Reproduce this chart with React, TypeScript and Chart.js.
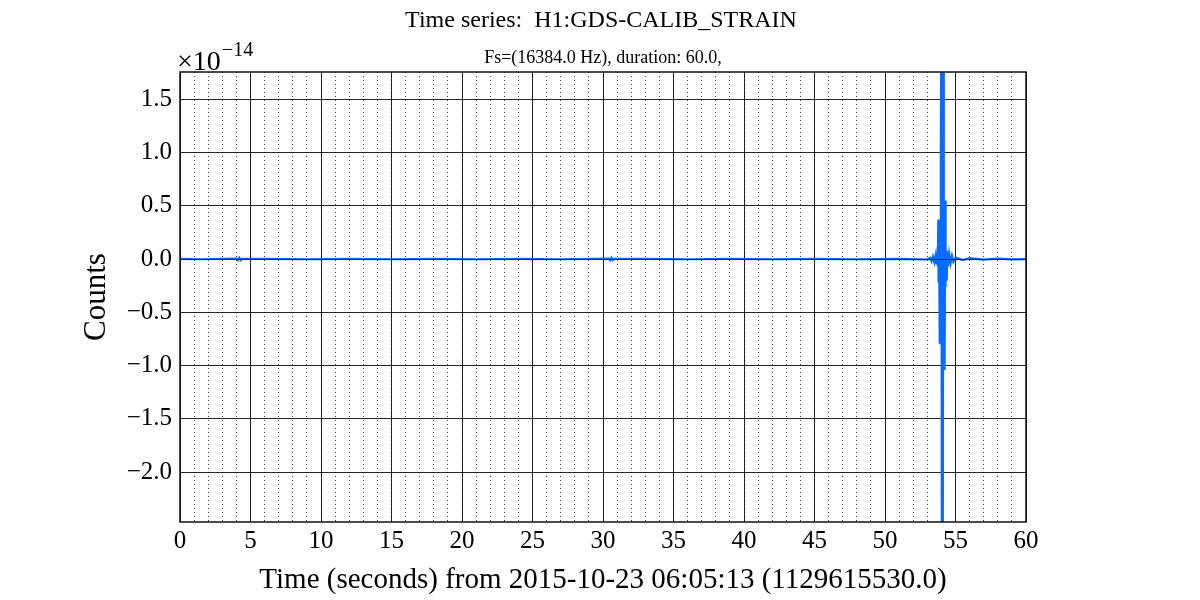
import React, { useEffect, useRef } from "react";
import { Chart, registerables } from "chart.js";

Chart.register(...registerables);

// Time (s) and strain values (units of 1e-14)
const times: number[] = [
  0, 1.5, 3, 4.0, 4.1, 4.2, 4.3, 4.4, 6, 9, 12, 15, 18, 21, 24, 27, 30.4, 30.5, 30.6, 30.7, 30.8,
  33, 36, 39, 42, 45, 48, 51, 53.0, 53.2, 53.3, 53.4, 53.5, 53.6, 53.65, 53.7, 53.75,
  53.78, 53.8, 53.83, 53.86, 53.9, 53.93, 53.96, 54.0, 54.03, 54.07, 54.1, 54.14, 54.17,
  54.2, 54.23, 54.27, 54.3, 54.33, 54.38, 54.42, 54.47, 54.55, 54.65, 54.75, 54.85, 55.0,
  55.5, 56, 57, 58, 59, 60,
];
const strain: number[] = [
  0.002, -0.002, 0.002, 0.004, -0.012, 0.012, -0.01, 0.003, 0.002, -0.002, 0.002, -0.002, 0.002, -0.002, 0.002, -0.002, 0.004, -0.012, 0.012, -0.01, 0.003,
  0.002, -0.002, 0.002, -0.002, 0.002, -0.002, 0.002, -0.004, 0.012, -0.02, 0.025, -0.03, 0.04, -0.05, 0.06, -0.07,
  0.37, -0.22, 0.37, -0.79, 0.37, -0.79, 1.0, 2.6, -3.0, 2.6, -3.0, 2.6, -1.04,
  0.55, -1.04, 0.55, -0.26, 0.08, -0.2, 0.06, -0.07, 0.05, -0.04, 0.03, -0.025, 0.015,
  -0.01, 0.008, -0.006, 0.004, -0.003, 0.0,
];
const xTickValues: number[] = [0, 5, 10, 15, 20, 25, 30, 35, 40, 45, 50, 55, 60];
const yTickValues: number[] = [-2.0, -1.5, -1.0, -0.5, 0.0, 0.5, 1.0, 1.5];

const titleText = "Time series:  H1:GDS-CALIB_STRAIN";
const subtitleText = "Fs=(16384.0 Hz), duration: 60.0,";
const xLabel = "Time (seconds) from 2015-10-23 06:05:13 (1129615530.0)";
const yLabel = "Counts";

const FONT = "'Liberation Serif', 'DejaVu Serif', serif";

export default function App() {
  const ref = useRef<HTMLCanvasElement | null>(null);
  useEffect(() => {
    if (!ref.current) return;
    const decor = {
      id: "decor",
      beforeDraw(chart: any) {
        const c = chart.ctx;
        c.save();
        c.fillStyle = "#fff";
        c.fillRect(0, 0, chart.width, chart.height);
        c.restore();
      },
      afterDatasetsDraw(chart: any) {
        const c = chart.ctx;
        const a = chart.chartArea;
        const y0 = chart.scales.y.getPixelForValue(0);
        c.save();
        c.strokeStyle = "rgba(10,30,80,0.85)";
        c.lineWidth = 1;
        c.beginPath();
        c.moveTo(a.left, Math.round(y0) + 0.5);
        c.lineTo(a.right, Math.round(y0) + 0.5);
        c.stroke();
        c.strokeStyle = "#111";
        c.lineWidth = 1.5;
        c.strokeRect(a.left, a.top, a.right - a.left, a.bottom - a.top);
        c.restore();
      },
      afterDraw(chart: any) {
        const c = chart.ctx;
        const a = chart.chartArea;
        c.save();
        c.fillStyle = "#000";
        c.textAlign = "center";
        c.textBaseline = "alphabetic";
        c.font = `24px ${FONT}`;
        c.fillText(titleText, 601, 27);
        c.font = `18px ${FONT}`;
        c.fillText(subtitleText, 603, 63);
        c.font = `29px ${FONT}`;
        c.fillText(xLabel, (a.left + a.right) / 2, 588);
        c.save();
        c.translate(105, (a.top + a.bottom) / 2);
        c.rotate(-Math.PI / 2);
        c.font = `31px ${FONT}`;
        c.fillText(yLabel, 0, 0);
        c.restore();
        c.textAlign = "left";
        c.font = `28px ${FONT}`;
        c.fillText("\u00d710", 177, 70);
        c.font = `20px ${FONT}`;
        c.fillText("\u221214", 222, 56);
        c.restore();
      },
    };
    const chart = new Chart(ref.current, {
      type: "line",
      data: {
        datasets: [
          {
            data: times.map((t, i) => ({ x: t, y: strain[i] })),
            borderColor: "#0a6cff",
            borderWidth: 2.2,
            pointRadius: 0,
            tension: 0,
            fill: false,
          },
        ],
      },
      options: {
        animation: false,
        responsive: false,
        events: [],
        layout: { padding: { top: 72, left: 0, right: 174, bottom: 0 } },
        plugins: { legend: { display: false }, tooltip: { enabled: false }, title: { display: false } },
        scales: {
          x2: {
            type: "linear",
            position: "bottom",
            min: 0,
            max: 60,
            ticks: { display: false, stepSize: 1 },
            grid: { color: "rgba(0,0,0,0.75)", lineWidth: 1, drawTicks: false },
            border: { display: false, dash: [1, 3] },
            afterFit(s: any) {
              s.height = 0;
            },
          },
          x: {
            type: "linear",
            position: "bottom",
            min: 0,
            max: 60,
            afterBuildTicks(s: any) {
              s.ticks = xTickValues.map((v) => ({ value: v }));
            },
            ticks: {
              font: { family: FONT, size: 25 },
              color: "#000",
              padding: 4,
              maxRotation: 0,
              autoSkip: false,
              callback: (v: any) => String(v),
            },
            grid: { color: "rgba(0,0,0,0.85)", lineWidth: 1, drawTicks: false },
            border: { display: false },
            afterFit(s: any) {
              s.height = 78;
            },
          },
          y: {
            type: "linear",
            min: -2.467,
            max: 1.755,
            afterBuildTicks(s: any) {
              s.ticks = yTickValues.map((v) => ({ value: v }));
            },
            ticks: {
              font: { family: FONT, size: 25 },
              color: "#000",
              padding: 8,
              autoSkip: false,
              callback: (v: any) => (v < 0 ? "\u2212" + Math.abs(v).toFixed(1) : Number(v).toFixed(1)),
            },
            grid: { color: "rgba(0,0,0,0.85)", lineWidth: 1, drawTicks: false },
            border: { display: false },
            afterFit(s: any) {
              s.width = 180;
            },
          },
        },
      },
      plugins: [decor],
    });
    return () => chart.destroy();
  }, []);
  return (
    <div style={{ position: "absolute", left: 0, top: 0, width: 1200, height: 600 }}>
      <canvas ref={ref} width={1200} height={600} style={{ width: 1200, height: 600 }} />
    </div>
  );
}
